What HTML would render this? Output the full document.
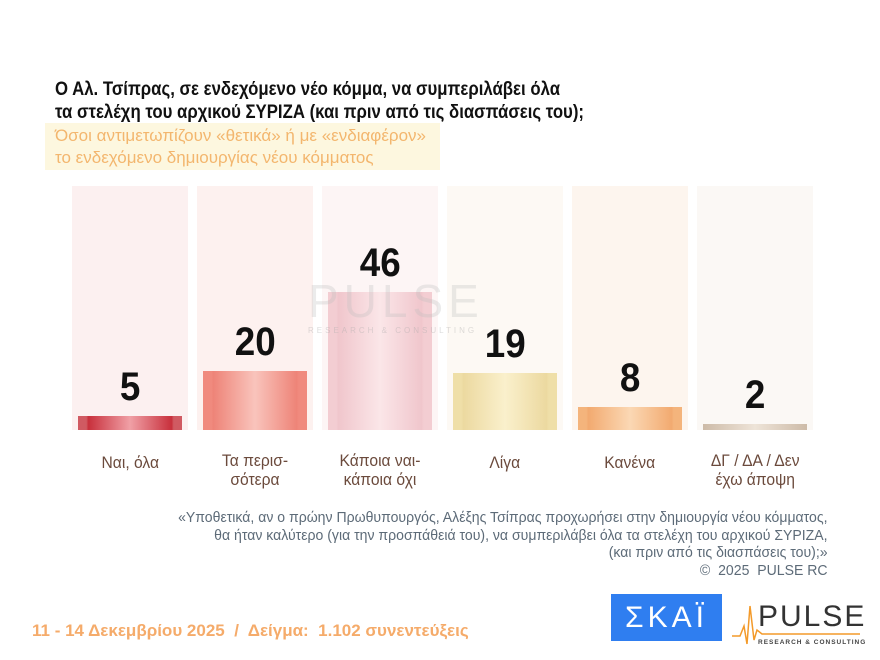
<!DOCTYPE html>
<html><head><meta charset="utf-8"><style>
body{margin:0;width:880px;height:660px;background:#fff;position:relative;overflow:hidden;font-family:"Liberation Sans","DejaVu Sans",sans-serif}
.a{position:absolute}
.c{display:inline-block;transform:scaleX(0.86);transform-origin:left top;white-space:nowrap}
.cc{display:inline-block;transform:scaleX(0.92);transform-origin:center top;white-space:nowrap}
.cr{display:inline-block;transform:scaleX(0.97);transform-origin:right top;white-space:nowrap}
.bg{position:absolute;top:186px;height:244px;width:116px}
.num{position:absolute;width:116px;text-align:center;font-weight:bold;font-size:40px;color:#111}
.lab{position:absolute;width:140px;text-align:center;font-size:17px;line-height:19px;color:#6b4a3c;top:451px}
</style></head><body>
<div class="a" style="left:55px;top:78px;font-size:19.5px;font-weight:bold;line-height:23px;color:#111"><span class="c">Ο Αλ. Τσίπρας, σε ενδεχόμενο νέο κόμμα, να συμπεριλάβει όλα<br>τα στελέχη του αρχικού ΣΥΡΙΖΑ (και πριν από τις διασπάσεις του);</span></div>
<div class="a" style="left:45px;top:123px;width:395px;height:47px;background:#fdf7df"></div>
<div class="a" style="left:55px;top:125px;font-size:17px;line-height:22px;color:#f3b66e;white-space:nowrap">Όσοι αντιμετωπίζουν «θετικά» ή με «ενδιαφέρον»<br>το ενδεχόμενο δημιουργίας νέου κόμματος</div>

<div class="bg" style="left:72px;background:#fcf0f0"></div>
<div class="bg" style="left:197px;background:#fdf1ef"></div>
<div class="bg" style="left:322px;background:#fdf5f5"></div>
<div class="bg" style="left:447px;background:#fdf9f4"></div>
<div class="bg" style="left:572px;background:#fdf5ee"></div>
<div class="bg" style="left:697px;background:#fbf8f5"></div>

<div class="a" style="left:78px;top:416px;width:104px;height:14px;background:linear-gradient(90deg,#d05a62 0 8%,#c8303c 10%,#f0a0a6 50%,#c8303c 90%,#d05a62 92%)"></div>
<div class="a" style="left:203px;top:371px;width:104px;height:59px;background:linear-gradient(90deg,#f08a7e 0 8%,#ee8478 10%,#f9c4bc 50%,#ee8478 90%,#f08a7e 92%)"></div>
<div class="a" style="left:328px;top:292px;width:104px;height:138px;background:linear-gradient(90deg,#f3cdd2 0 8%,#f0c6cc 10%,#fbe6e8 50%,#f0c6cc 90%,#f3cdd2 92%)"></div>
<div class="a" style="left:453px;top:373px;width:104px;height:57px;background:linear-gradient(90deg,#efdfa8 0 8%,#ecd9a0 10%,#faf0cc 50%,#ecd9a0 90%,#efdfa8 92%)"></div>
<div class="a" style="left:578px;top:407px;width:104px;height:23px;background:linear-gradient(90deg,#f4b47c 0 8%,#f2aa70 10%,#fbd8b4 50%,#f2aa70 90%,#f4b47c 92%)"></div>
<div class="a" style="left:703px;top:424px;width:104px;height:6px;background:linear-gradient(90deg,#cdbba8,#eee4d8 50%,#cdbba8)"></div>

<div class="a" style="left:308px;top:274px;font-size:46px;letter-spacing:5px;color:rgba(190,190,190,0.3)">PULSE</div>
<div class="a" style="left:308px;top:326px;font-size:8px;letter-spacing:3px;color:rgba(170,170,170,0.4)">RESEARCH &amp; CONSULTING</div>

<div class="num" style="left:72px;top:365px"><span class="cc">5</span></div>
<div class="num" style="left:197px;top:320px"><span class="cc">20</span></div>
<div class="num" style="left:322px;top:241px"><span class="cc">46</span></div>
<div class="num" style="left:447px;top:322px"><span class="cc">19</span></div>
<div class="num" style="left:572px;top:356px"><span class="cc">8</span></div>
<div class="num" style="left:697px;top:373px"><span class="cc">2</span></div>

<div class="lab" style="left:60px;top:453px"><span class="cc">Ναι, όλα</span></div>
<div class="lab" style="left:185px"><span class="cc">Τα περισ-<br>σότερα</span></div>
<div class="lab" style="left:310px"><span class="cc">Κάποια ναι-<br>κάποια όχι</span></div>
<div class="lab" style="left:435px;top:453px"><span class="cc">Λίγα</span></div>
<div class="lab" style="left:560px;top:453px"><span class="cc">Κανένα</span></div>
<div class="lab" style="left:685px"><span class="cc">ΔΓ / ΔΑ / Δεν<br>έχω άποψη</span></div>

<div class="a" style="right:52px;top:510px;text-align:right;font-size:14.5px;line-height:17.5px;color:#5d6b78"><span class="cr">«Υποθετικά, αν ο πρώην Πρωθυπουργός, Αλέξης Τσίπρας προχωρήσει στην δημιουργία νέου κόμματος,<br>θα ήταν καλύτερο (για την προσπάθειά του), να συμπεριλάβει όλα τα στελέχη του αρχικού ΣΥΡΙΖΑ,<br>(και πριν από τις διασπάσεις του);»<br>©&nbsp; 2025&nbsp; PULSE RC</span></div>

<div class="a" style="left:32px;top:621px;font-size:17px;font-weight:bold;color:#f5ab6a;white-space:nowrap">11 - 14 Δεκεμβρίου 2025&nbsp; /&nbsp; Δείγμα:&nbsp; 1.102 συνεντεύξεις</div>

<div class="a" style="left:611px;top:594px;width:111px;height:47px;background:#2f7ef0;color:#fff;font-size:30px;text-align:center;line-height:47px;letter-spacing:4px">ΣΚΑΪ</div>
<svg class="a" style="left:732px;top:596px" width="140" height="50">
<polyline points="0,40 8,40 12,30 15,48 18,10 22,44 25,34 30,38 128,38" fill="none" stroke="#f39a2a" stroke-width="1.5"/>
<text x="26" y="30" font-size="30" font-family="Liberation Sans" fill="#333" letter-spacing="2">PULSE</text>
<text x="26" y="48" font-size="6.5" font-family="Liberation Sans" font-weight="bold" fill="#444" letter-spacing="1">RESEARCH &amp; CONSULTING</text>
</svg>
</body></html>
